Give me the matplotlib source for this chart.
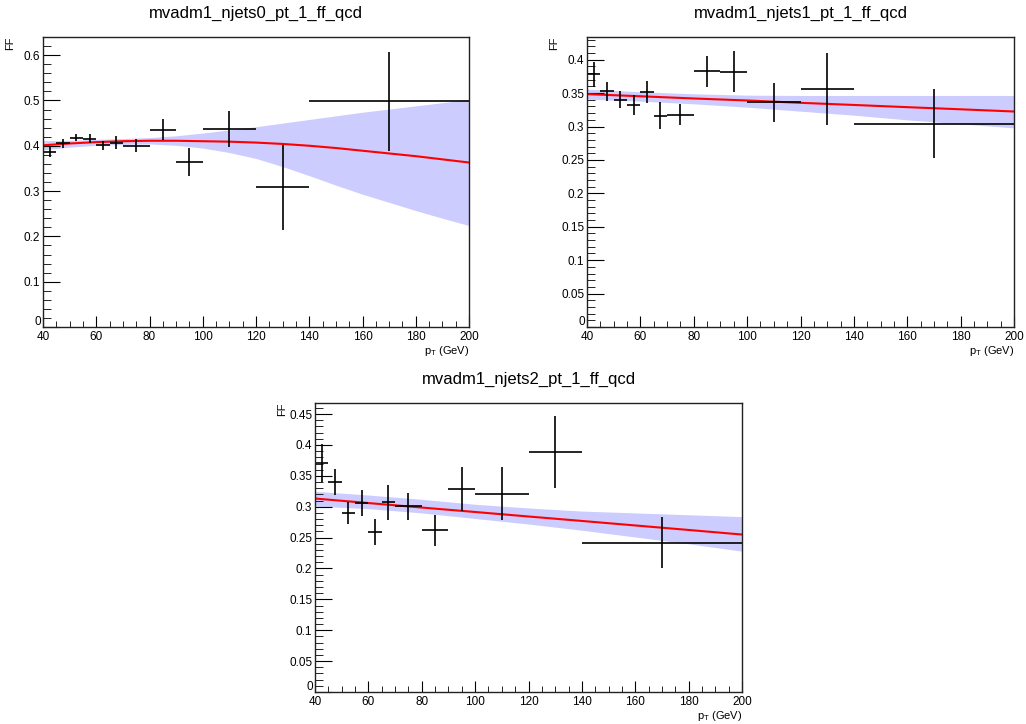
import numpy as np
import matplotlib
matplotlib.use("Agg")
import matplotlib.pyplot as plt
import matplotlib.transforms as mtransforms
from matplotlib.ticker import MultipleLocator

plt.rcParams['font.family'] = ['Liberation Sans', 'DejaVu Sans']

# bin centres / half widths (same binning for all three categories)
pt_centres = [42.5, 47.5, 52.5, 57.5, 62.5, 67.5, 75, 85, 95, 110, 130, 170]
pt_halfw = [2.5, 2.5, 2.5, 2.5, 2.5, 2.5, 5, 5, 5, 10, 10, 30]

# njets0
ff0 = [0.387, 0.405, 0.4175, 0.415, 0.401, 0.407, 0.400, 0.435, 0.364, 0.437, 0.308, 0.498]
err0 = [0.011, 0.010, 0.008, 0.010, 0.010, 0.014, 0.014, 0.023, 0.030, 0.040, 0.094, 0.109]
# njets1
ff1 = [0.378, 0.3525, 0.340, 0.332, 0.3515, 0.3165, 0.318, 0.3825, 0.382, 0.3365, 0.3565, 0.3045]
err1 = [0.019, 0.014, 0.013, 0.015, 0.017, 0.020, 0.016, 0.023, 0.031, 0.029, 0.054, 0.052]
# njets2
ff2 = [0.371, 0.340, 0.290, 0.306, 0.259, 0.307, 0.301, 0.262, 0.329, 0.321, 0.389, 0.242]
err2 = [0.031, 0.021, 0.018, 0.021, 0.021, 0.028, 0.022, 0.025, 0.036, 0.043, 0.058, 0.042]

# fit curves and uncertainty bands
fit_x0 = [40, 50, 60, 70, 80, 90, 100, 110, 120, 130, 140, 150, 160, 170, 180, 190, 200]
fit0 = [0.401, 0.405, 0.408, 0.410, 0.411, 0.411, 0.410, 0.409, 0.407, 0.404, 0.400, 0.395, 0.389, 0.383, 0.377, 0.370, 0.363]
hi0 = [0.411, 0.412, 0.414, 0.416, 0.418, 0.422, 0.428, 0.435, 0.442, 0.450, 0.458, 0.466, 0.474, 0.481, 0.488, 0.495, 0.502]
lo0 = [0.391, 0.397, 0.401, 0.403, 0.404, 0.401, 0.395, 0.385, 0.372, 0.354, 0.334, 0.313, 0.293, 0.275, 0.257, 0.240, 0.224]
fit_x = [40, 60, 80, 100, 120, 140, 160, 180, 200]
fit1 = [0.3485, 0.3453, 0.342, 0.339, 0.3355, 0.3323, 0.329, 0.3258, 0.3225]
hi1 = [0.356, 0.352, 0.349, 0.347, 0.3465, 0.3465, 0.3465, 0.3465, 0.3465]
lo1 = [0.341, 0.338, 0.334, 0.329, 0.323, 0.317, 0.310, 0.304, 0.298]
fit2 = [0.3133, 0.306, 0.2987, 0.2915, 0.2842, 0.277, 0.2697, 0.2624, 0.255]
hi2 = [0.325, 0.319, 0.312, 0.304, 0.298, 0.293, 0.290, 0.287, 0.284]
lo2 = [0.301, 0.297, 0.290, 0.281, 0.272, 0.262, 0.251, 0.240, 0.228]

titles = ['mvadm1_njets0_pt_1_ff_qcd', 'mvadm1_njets1_pt_1_ff_qcd', 'mvadm1_njets2_pt_1_ff_qcd']

fig = plt.figure(figsize=(10.26, 7.24), dpi=100)
# axes boxes in pixels: left, top, right, bottom
boxes = [(43, 37, 469, 327), (587, 37, 1014, 327), (315, 403, 742, 692)]
panels = [(ff0, err0, fit_x0, fit0, hi0, lo0, 0.64, 0.1, 0.02),
          (ff1, err1, fit_x, fit1, hi1, lo1, 0.434, 0.05, 0.01),
          (ff2, err2, fit_x, fit2, hi2, lo2, 0.468, 0.05, 0.01)]


def ylab(v, p):
    # the zero label is drawn separately, nudged up off the x labels
    if abs(v) < 1e-9:
        return ''
    return '%g' % round(v, 3)


W, H = 1026, 724
for (l, t, r, b), (ff, err, fx, fit, hi, lo, ymax, major, minor), title in zip(boxes, panels, titles):
    ax = fig.add_axes([l / W, 1 - b / H, (r - l) / W, (b - t) / H])
    ax.fill_between(fx, lo, hi, color='#ccccff', lw=0)
    ax.plot(fx, fit, color='red', lw=1.5)
    ax.errorbar(pt_centres, ff, xerr=pt_halfw, yerr=err, fmt='none', ecolor='black', elinewidth=1.2, capsize=0)
    ax.set_xlim(40, 200)
    ax.set_ylim(0, ymax)
    ax.xaxis.set_major_locator(MultipleLocator(20))
    ax.xaxis.set_minor_locator(MultipleLocator(5))
    ax.yaxis.set_major_locator(MultipleLocator(major))
    ax.yaxis.set_minor_locator(MultipleLocator(minor))
    ax.yaxis.set_major_formatter(matplotlib.ticker.FuncFormatter(ylab))
    ax.tick_params(which='both', direction='in', labelsize=8.5, colors='black', pad=2)
    ax.tick_params(axis='x', pad=3)
    ax.tick_params(axis='y', which='major', length=12)
    ax.tick_params(axis='y', which='minor', length=6)
    ax.tick_params(axis='x', which='major', length=8)
    ax.tick_params(axis='x', which='minor', length=4)
    for s in ax.spines.values():
        s.set_linewidth(1.0)
        s.set_color('#222222')
    ax.set_title(title, fontsize=12, pad=14)
    zero_tr = mtransforms.offset_copy(ax.get_yaxis_transform(), fig=fig, x=-1.5, y=-1, units='points')
    ax.text(0, 0, '0', transform=zero_tr, ha='right', va='bottom', fontsize=8.5)
    ax.text(1.0, -0.058, r'p$_{\mathregular{T}}$ (GeV)', transform=ax.transAxes, ha='right', va='top', fontsize=8)
    ax.text(-0.065, 1.0, 'FF', transform=ax.transAxes, ha='right', va='top', rotation=90, fontsize=8)

fig.savefig('out.png', dpi=100)
